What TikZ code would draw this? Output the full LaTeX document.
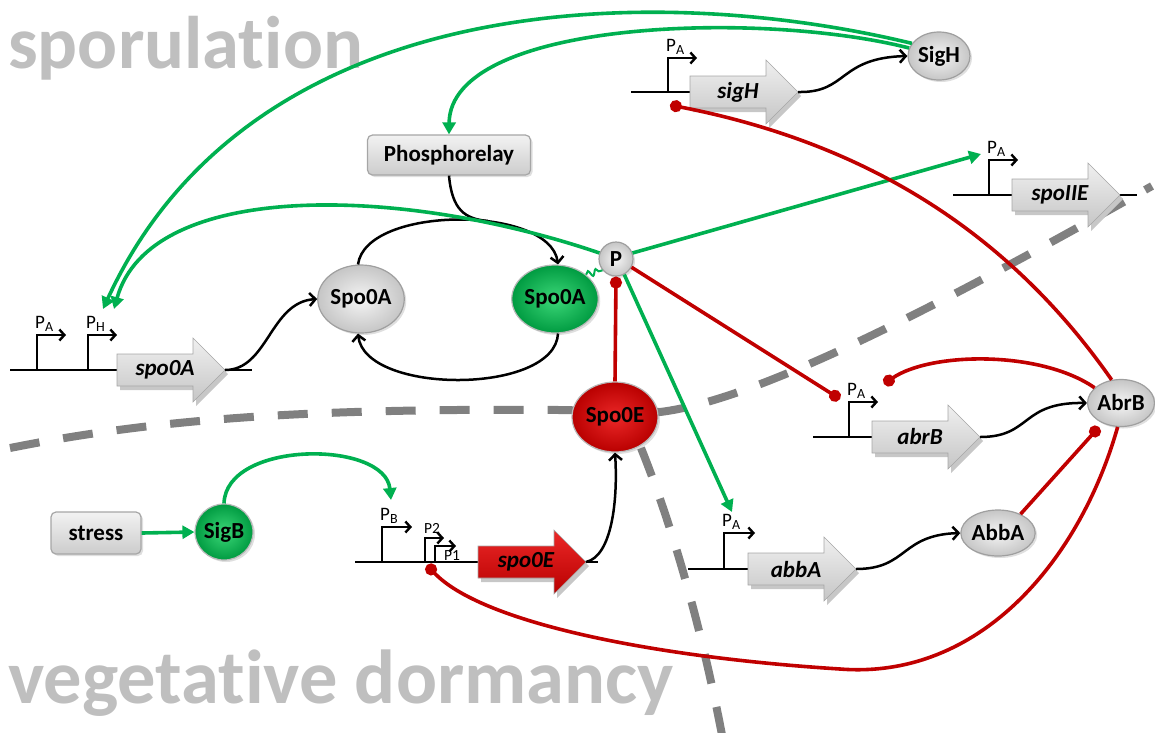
\documentclass[tikz,border=0pt]{standalone}
\usepackage{fontspec}
\setmainfont{Carlito}[Ligatures={NoCommon}]
\usetikzlibrary{arrows.meta,decorations.pathmorphing,shapes.geometric,shadows}
\definecolor{lgreen}{RGB}{0,176,80}
\definecolor{ngreenin}{RGB}{60,215,120}
\definecolor{ngreenout}{RGB}{0,155,65}
\definecolor{lred}{RGB}{192,0,0}
\definecolor{nredin}{RGB}{235,40,40}
\definecolor{nredout}{RGB}{185,0,0}
\definecolor{dashgray}{RGB}{128,128,128}
\definecolor{txtgray}{RGB}{191,191,191}
\newcommand\genearrow[6]{%
  \fill[black!22] (#2+3,#3-12) -- (#2+79,#3-12) -- (#2+79,#3-28) -- (#2+111,#3+4) -- (#2+79,#3+36) -- (#2+79,#3+20) -- (#2+3,#3+20) -- cycle;
  \shade[top color=#5, bottom color=#6, draw=black!35, line width=0.6pt] (#2,#3-16) -- (#2+76,#3-16) -- (#2+76,#3-32) -- (#2+108,#3) -- (#2+76,#3+32) -- (#2+76,#3+16) -- (#2,#3+16) -- cycle;
  \node[genetext] (#1) at (#2+48,#3) {#4};
  \coordinate (#1tip) at (#2+108,#3);
}
\newcommand\promoter[6]{%
  \draw[promarr] (#2,#3) -- (#2,#4) -- (#5,#4);
  \node[plabel] (#1) at (#2-2,#4-7) {#6};
}
\newcommand\Psub[1]{P\raisebox{-3.5pt}{\fontsize{14}{15}\selectfont #1}}
\begin{document}
\begin{tikzpicture}[x=1pt,y=-1pt,
  every node/.style={inner sep=0pt, font=\fontsize{23}{27}\selectfont\bfseries},
  gnode/.style={ellipse, draw=gray!75, line width=1.2pt, inner color=gray!8, outer color=gray!45,
     drop shadow={opacity=0.25,shadow xshift=2pt,shadow yshift=-2pt}},
  grnnode/.style={ellipse, draw=gray!55, line width=1.2pt, inner color=ngreenin, outer color=ngreenout,
     drop shadow={opacity=0.25,shadow xshift=2pt,shadow yshift=-2pt}},
  rednode/.style={ellipse, draw=gray!55, line width=1.2pt, inner color=nredin, outer color=nredout,
     drop shadow={opacity=0.25,shadow xshift=2pt,shadow yshift=-2pt}},
  boxnode/.style={rectangle, rounded corners=5pt, draw=gray!70, line width=1.2pt, top color=gray!10, bottom color=gray!40,
     drop shadow={opacity=0.25,shadow xshift=2pt,shadow yshift=-2pt}},
  genetext/.style={font=\fontsize{23}{27}\selectfont\bfseries\itshape},
  plabel/.style={anchor=base west, font=\fontsize{19}{21}\selectfont},
  promarr/.style={line width=2.4pt, -{Straight Barb[length=5pt,width=11pt]}},
  dnaline/.style={line width=1.6pt},
  blk/.style={line width=2.5pt, -{Straight Barb[length=6pt,width=13pt]}},
  blkline/.style={line width=2.5pt},
  grn/.style={draw=lgreen, line width=3.6pt, -{Triangle[length=12pt,width=13pt]}},
  rdot/.style={draw=lred, line width=3.6pt, -{Circle[length=12pt]}},
  dashline/.style={draw=dashgray, line width=8pt, dash pattern=on 30pt off 24pt},
  bigtext/.style={anchor=base west, text=txtgray}
]
\useasboundingbox (0,0) rectangle (1155,732);

% background labels
\node[bigtext, font=\fontsize{74.5}{80}\selectfont\bfseries] (spor) at (8,68) {sporulation};
\node[bigtext, font=\fontsize{76.5}{80}\selectfont\bfseries] (veg) at (8,703) {vegetative dormancy};

% dashed separators
\draw[dashline] (10,448) .. controls (150,420) and (300,408) .. (560,410) -- (660,412) .. controls (760,400) and (950,300) .. (1152,186);
\draw[dashline] (641,448) .. controls (670,520) and (700,620) .. (722,735);

% DNA lines
\draw[dnaline] (10,370) -- (252,370);
\draw[dnaline] (631,92) -- (690,92);
\draw[dnaline] (953,195) -- (1137,195);
\draw[dnaline] (813,437) -- (872,437);
\draw[dnaline] (688,569) -- (748,569);
\draw[dnaline] (355,562) -- (598,562);

% promoters
\promoter{pa0A}{37}{370}{335}{66}{\Psub{A}}
\promoter{ph0A}{88}{370}{335}{117}{\Psub{H}}
\promoter{pasigH}{668}{92}{58}{697}{\Psub{A}}
\promoter{paIIE}{989}{195}{160}{1018}{\Psub{A}}
\promoter{paabrB}{849}{437}{402}{878}{\Psub{A}}
\promoter{paabbA}{724}{569}{533}{755}{\Psub{A}}
\promoter{pb0E}{382}{562}{527}{412}{\Psub{B}}
\draw[promarr] (425,562) -- (425,538) -- (444,538);
\node[plabel, font=\fontsize{15.5}{17}\selectfont] (p2) at (424,533) {P2};
\draw[promarr] (435,562) -- (435,546) -- (456,546);
\node[plabel, font=\fontsize{15.5}{17}\selectfont] (p1) at (444,560) {P1};

% genes
\genearrow{g0A}{117}{370}{spo0A}{gray!12}{gray!45}
\genearrow{gsigH}{690}{92}{sigH}{gray!12}{gray!45}
\genearrow{gIIE}{1012}{195}{spoIIE}{gray!12}{gray!45}
\genearrow{gabrB}{872}{437}{abrB}{gray!12}{gray!45}
\genearrow{gabbA}{748}{569}{abbA}{gray!12}{gray!45}
\genearrow{g0E}{478}{562}{spo0E}{nredin}{nredout}

% nodes
\node[boxnode, minimum width=163, minimum height=40] (phos) at (449,155) {Phosphorelay};
\node[boxnode, minimum width=90, minimum height=42] (stress) at (96,533) {stress};
\node[gnode, minimum width=82, minimum height=68] (S0A) at (361,299) {Spo0A};
\node[grnnode, minimum width=84, minimum height=68] (S0Ap) at (555,299) {Spo0A};
\node[gnode, circle, minimum size=34] (P) at (616,259) {P};
\node[rednode, minimum width=86, minimum height=70] (S0E) at (615,417) {Spo0E};
\node[gnode, minimum width=62, minimum height=48] (SigH) at (939,56) {SigH};
\node[gnode, minimum width=62, minimum height=47] (AbrB) at (1121,403) {AbrB};
\node[gnode, minimum width=60, minimum height=46] (AbbA) at (998,533) {AbbA};
\node[grnnode, minimum width=58, minimum height=56] (SigB) at (224,532) {SigB};

% black connectors
\draw[blk] (g0Atip) .. controls (268,370) and (270,302) .. (S0A.west);
\draw[blk] (gsigHtip) .. controls (848,93) and (838,58) .. (SigH.west);
\draw[blk] (gabrBtip) .. controls (1032,437) and (1020,402) .. (AbrB.west);
\draw[blk] (gabbAtip) .. controls (908,569) and (900,535) .. (AbbA.west);
\draw[blk] (g0Etip) .. controls (612,556) and (618,500) .. (S0E.south);
\draw[blk] (S0A.95) .. controls (366,205) and (550,205) .. (S0Ap.85);
\draw[blk] (S0Ap.275) .. controls (555,395) and (365,395) .. (S0A.265);
\draw[blkline] (phos.south) .. controls (452,210) and (465,219) .. (488,221);

% green connectors
\draw[grn] (SigH.155) .. controls (650,-20) and (250,-10) .. (103,309);
\draw[grn] (SigH.165) .. controls (760,10) and (450,20) .. (phos.north);
\draw[grn] (P.160) .. controls (400,185) and (150,180) .. (114,309);
\draw[grn] (P.20) -- (981,154);
\draw[grn] (P.-62) -- (732,512);
\draw[grn] (SigB.north) .. controls (226,440) and (385,440) .. (391,500);
\draw[grn] (stress.east) -- (SigB.west);
\draw[lgreen, line width=2pt, decorate, decoration={snake, segment length=8pt, amplitude=3pt}] (S0Ap.38) -- (P.220);

% red connectors
\draw[rdot] (S0E.north) -- (P.south);
\draw[rdot] (P.-28) -- (840,399);
\draw[rdot] (AbrB.150) .. controls (1040,350) and (930,352) .. (884,384);
\draw[rdot] (AbrB.112) .. controls (1000,220) and (850,140) .. (670,105);
\draw[rdot] (AbbA.40) -- (1099,427);
\draw[rdot] (AbrB.262) .. controls (1080,560) and (980,680) .. (840,669) .. controls (650,657) and (480,622) .. (427,565);
\end{tikzpicture}
\end{document}
